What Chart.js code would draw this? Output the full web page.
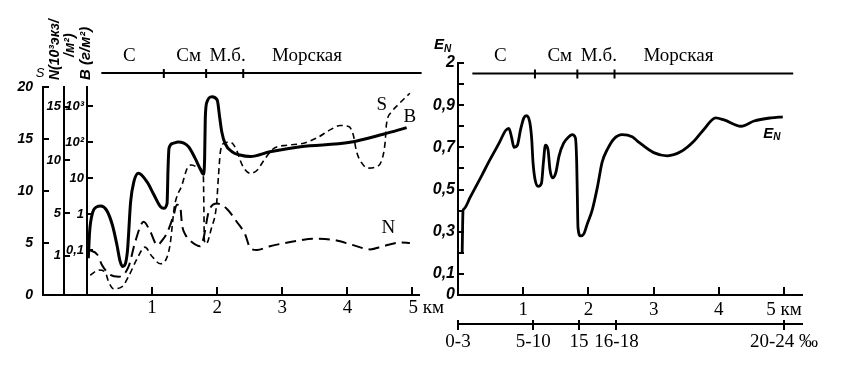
<!DOCTYPE html>
<html>
<head>
<meta charset="utf-8">
<script src="https://cdn.jsdelivr.net/npm/chart.js@4.4.0/dist/chart.umd.min.js"></script>
<style>
  body { margin: 0; background: #fff; }
  #left { position: absolute; left: 0; top: 0; }
  #right { position: absolute; left: 420px; top: 0; }
</style>
</head>
<body>
<canvas id="left" width="450" height="385"></canvas>
<canvas id="right" width="423" height="385"></canvas>
<script>
// zones along the transect (km)
const zoneNames = ['С', 'См', 'М.б.', 'Морская'];
const zoneLabelKm = [0.65, 1.56, 2.16, 3.38];
const zoneEdges = [1.18, 1.83, 2.4];
const zoneBar = [0.22, 5.14];

// x ticks
const kmTicks = [1, 2, 3, 4, 5];
const kmLabelsLeft = ['1', '2', '3', '4', '\u2002\u2002\u2009 5 км'];
const kmLabelsRight = ['1', '2', '3', '4', '5 км'];
const salTicks = [0, 1.154, 1.854, 2.43, 5.0];
const salLabels = ['0-3', '5-10', '15', '16-18', '20-24 ‰'];

// y ticks
const sTicks = [0, 5, 10, 15, 20];
const sLabels = ['0', '5', '10', '15', '20'];
const nTicks = [1, 5, 10, 15];
const nLabels = ['1', '5', '10', '15'];
const bTicks = [0.1, 1, 10, 100, 1000];
const bLabels = ['0,1', '1', '10', '10²', '10³'];
const eTicks = [0, 0.1, 0.2, 0.3, 0.4, 0.5, 0.6, 0.7, 0.8, 0.9, 1.0, 1.1];
const eLabels = ['0', '0,1', '', '0,3', '', '0,5', '', '0,7', '', '0,9', '', '2'];

// B, biomass (g/m2, log scale)
const bKm = [0.02, 0.04, 0.08, 0.15, 0.21, 0.30, 0.39, 0.46, 0.51, 0.55, 0.62, 0.67, 0.72, 0.79, 0.92,
  1.03, 1.13, 1.18, 1.23, 1.245, 1.26, 1.32, 1.40, 1.56, 1.66, 1.74, 1.79, 1.807, 1.817, 1.844,
  1.92, 2.00, 2.04, 2.07, 2.12, 2.23, 2.35, 2.51, 2.81, 3.28, 4.04, 4.55, 4.91];
const bVal = [0.06, 0.32, 1.0, 1.6, 1.7, 1.3, 0.5, 0.14, 0.048, 0.035, 0.09, 2.2, 8, 13.7, 8,
  3.4, 1.6, 1.46, 2.0, 19, 68, 93, 101, 75, 36, 18, 12.8, 36, 460, 1330,
  1840, 1490, 460, 196, 93, 54, 44, 40, 54, 75, 99, 166, 253];

// S, salinity
const sKm = [0.05, 0.18, 0.28, 0.33, 0.41, 0.54, 0.64, 0.77, 0.89, 1.00, 1.13, 1.22, 1.28, 1.31, 1.34,
  1.46, 1.54, 1.61, 1.72, 1.787, 1.796, 1.802, 1.83, 1.91, 1.99, 2.02, 2.05, 2.11, 2.20, 2.30,
  2.35, 2.41, 2.51, 2.63, 2.69, 2.87, 3.07, 3.33, 3.53, 3.74, 3.89, 4.02, 4.09, 4.14, 4.22,
  4.32, 4.43, 4.53, 4.58, 4.60, 4.68, 4.78, 4.91, 4.96];
const sVal = [1.9, 2.4, 2.2, 1.3, 0.6, 0.8, 1.8, 3.5, 4.6, 3.7, 3.0, 3.5, 5.0, 6.7, 8.4,
  10.6, 12.2, 12.5, 12.2, 11.5, 8.2, 5.3, 4.9, 6.4, 8.7, 11.5, 13.8, 14.6, 14.7, 13.9,
  13.0, 12.2, 11.7, 12.1, 12.7, 14.1, 14.4, 14.6, 15.1, 15.9, 16.3, 16.2, 15.4, 13.8, 12.7,
  12.2, 12.3, 13.0, 14.7, 16.4, 17.6, 18.3, 19.1, 19.4];

// N, abundance (10^3 ind/m2)
const nKm = [0.03, 0.16, 0.23, 0.36, 0.49, 0.64, 0.74, 0.87, 0.97, 1.08, 1.16, 1.23, 1.33, 1.38, 1.43,
  1.46, 1.51, 1.61, 1.74, 1.79, 1.87, 2.00, 2.15, 2.30, 2.43, 2.51, 2.61, 2.81, 3.23, 3.47,
  3.78, 4.09, 4.35, 4.55, 4.81, 4.96];
const nVal = [1.55, 1.1, 0.14, -0.8, -0.96, 0.0, 2.3, 4.2, 3.3, 2.0, 2.5, 3.15, 4.8, 5.8, 5.7,
  3.9, 3.0, 2.3, 1.9, 2.65, 5.15, 5.9, 5.4, 4.2, 3.0, 1.7, 1.55, 1.9, 2.4, 2.6,
  2.5, 2.0, 1.6, 1.9, 2.25, 2.2];

// E_N
const eKm = [0.064, 0.077, 0.09, 0.19, 0.37, 0.47, 0.63, 0.73, 0.78, 0.82, 0.86, 0.91, 0.96, 1.01, 1.05, 1.10,
  1.13, 1.15, 1.18, 1.23, 1.28, 1.31, 1.34, 1.38, 1.41, 1.45, 1.50, 1.55, 1.62, 1.70, 1.75,
  1.80, 1.82, 1.83, 1.84, 1.88, 1.93, 1.98, 2.06, 2.14, 2.21, 2.29, 2.39, 2.52, 2.67, 2.75,
  3.00, 3.21, 3.42, 3.62, 3.77, 3.95, 4.08, 4.34, 4.54, 4.80, 4.98];
const eVal = [0.20, 0.40, 0.408, 0.465, 0.57, 0.63, 0.72, 0.78, 0.79, 0.75, 0.70, 0.71, 0.785, 0.84, 0.85, 0.82,
  0.74, 0.63, 0.55, 0.515, 0.53, 0.63, 0.71, 0.69, 0.595, 0.555, 0.58, 0.66, 0.72, 0.75, 0.76,
  0.745, 0.63, 0.47, 0.32, 0.28, 0.29, 0.335, 0.405, 0.515, 0.63, 0.69, 0.74, 0.76, 0.75, 0.73,
  0.675, 0.66, 0.68, 0.73, 0.785, 0.84, 0.83, 0.80, 0.825, 0.84, 0.845];

Chart.defaults.color = '#000';
Chart.defaults.font.family = '"Liberation Serif", serif';
Chart.defaults.animation = false;

const pts = (xs, ys) => xs.map((x, i) => ({ x: x, y: ys[i] }));
const fixTicks = vals => s => { s.ticks = vals.map(v => ({ value: v })); };
const serif = { family: '"Liberation Serif", serif', size: 19 };
const italicSans = size => ({ family: '"Liberation Sans", sans-serif', size: size, style: 'italic', weight: 'bold' });

// fixed box sizes so the axes land where the original has them
const fitX = h => s => { s.height = h; s.paddingLeft = 0; s.paddingRight = 0; };
const fitY = w => s => { s.width = w; s.paddingTop = 0; s.paddingBottom = 0; };

function yAxis(opts) {
  return Object.assign({
    position: 'left',
    bounds: 'data',
    border: { color: '#000', width: 2 },
    grid: { drawOnChartArea: false, tickLength: -6, color: '#000', lineWidth: 2 },
  }, opts);
}

function drawZones(ctx, xs, y) {
  ctx.lineWidth = 2;
  ctx.beginPath();
  ctx.moveTo(xs.getPixelForValue(zoneBar[0]), y);
  ctx.lineTo(xs.getPixelForValue(zoneBar[1]), y);
  zoneEdges.forEach(v => {
    const px = xs.getPixelForValue(v);
    ctx.moveTo(px, y - 4);
    ctx.lineTo(px, y + 5);
  });
  ctx.stroke();
  ctx.font = '19px "Liberation Serif"';
  ctx.textAlign = 'center';
  ctx.textBaseline = 'middle';
  zoneNames.forEach((t, i) => ctx.fillText(t, xs.getPixelForValue(zoneLabelKm[i]), y - 17));
}

function vText(ctx, text, x, yBottom) {
  ctx.save();
  ctx.translate(x, yBottom);
  ctx.rotate(-Math.PI / 2);
  ctx.textAlign = 'left';
  ctx.textBaseline = 'middle';
  ctx.fillText(text, 0, 0);
  ctx.restore();
}

const leftDecor = {
  id: 'leftDecor',
  afterDraw(chart) {
    const { ctx, chartArea, scales } = chart;
    const x = scales.x, yS = scales.yS, yN = scales.yN, yB = scales.yB;
    ctx.save();
    ctx.strokeStyle = '#000';
    ctx.fillStyle = '#000';
    ctx.lineWidth = 2;
    ctx.beginPath();
    ctx.moveTo(yS.right - 1, x.top);
    ctx.lineTo(chartArea.left, x.top);
    ctx.stroke();
    drawZones(ctx, x, chartArea.top - 14);

    ctx.font = 'italic 13px "Liberation Sans"';
    ctx.textAlign = 'center';
    ctx.textBaseline = 'middle';
    ctx.fillText('S', yS.right - 3, chartArea.top - 14);
    ctx.font = 'italic bold 14px "Liberation Sans"';
    vText(ctx, 'N(10³экз/', yN.left + 12, chartArea.top - 7);
    vText(ctx, '/м²)', yN.right + 6, chartArea.top - 30);
    ctx.font = 'italic bold 15px "Liberation Sans"';
    vText(ctx, 'B (г/м²)', yB.right - 1, chartArea.top - 7);

    ctx.font = '19px "Liberation Serif"';
    ctx.fillText('S', x.getPixelForValue(4.53), yS.getPixelForValue(18.3));
    ctx.fillText('B', x.getPixelForValue(4.96), yS.getPixelForValue(17.1));
    ctx.fillText('N', x.getPixelForValue(4.63), yS.getPixelForValue(6.44));
    ctx.restore();
  }
};

const rightDecor = {
  id: 'rightDecor',
  afterDraw(chart) {
    const { ctx, chartArea, scales } = chart;
    const x = scales.x, xSal = scales.xSal, yE = scales.yE;
    ctx.save();
    ctx.strokeStyle = '#000';
    ctx.fillStyle = '#000';
    drawZones(ctx, x, chartArea.top + 10.5);
    // salinity ticks cross the line: add the upper halves
    ctx.lineWidth = 2;
    ctx.beginPath();
    salTicks.forEach(v => {
      const px = Math.round(xSal.getPixelForValue(v));
      ctx.moveTo(px, xSal.top - 4);
      ctx.lineTo(px, xSal.top);
    });
    ctx.stroke();
    const subLabel = (px, py) => {
      ctx.textAlign = 'left';
      ctx.textBaseline = 'middle';
      ctx.font = 'italic bold 15px "Liberation Sans"';
      ctx.fillText('E', px, py);
      ctx.font = 'italic bold 10px "Liberation Sans"';
      ctx.fillText('N', px + 10, py + 4);
    };
    subLabel(yE.right - 24, chartArea.top - 18);
    subLabel(x.getPixelForValue(4.68), yE.getPixelForValue(0.765));
    ctx.restore();
  }
};

const lineBase = { pointRadius: 0, borderColor: '#000', fill: false, cubicInterpolationMode: 'monotone' };

new Chart(document.getElementById('left'), {
  type: 'line',
  data: {
    datasets: [
      Object.assign({ label: 'B', data: pts(bKm, bVal), yAxisID: 'yB', borderWidth: 3 }, lineBase),
      Object.assign({ label: 'S', data: pts(sKm, sVal), yAxisID: 'yS', borderWidth: 1.6, borderDash: [6, 4] }, lineBase),
      Object.assign({ label: 'N', data: pts(nKm, nVal), yAxisID: 'yN', borderWidth: 2, borderDash: [11, 6] }, lineBase)
    ]
  },
  options: {
    responsive: false,
    layout: { padding: { left: 0, top: 87, right: 31, bottom: 60 } },
    plugins: { legend: { display: false }, tooltip: { enabled: false } },
    scales: {
      x: {
        type: 'linear', position: 'bottom', min: 0, max: 5.1, bounds: 'data',
        border: { color: '#000', width: 2 },
        grid: { drawOnChartArea: false, tickLength: -8, color: '#000', lineWidth: 2 },
        afterBuildTicks: fixTicks(kmTicks),
        afterFit: fitX(30),
        ticks: { font: serif, padding: 10, maxRotation: 0, autoSkip: false, callback: (v, i) => kmLabelsLeft[i] }
      },
      yS: yAxis({
        weight: 3, min: 0, max: 20,
        afterBuildTicks: fixTicks(sTicks),
        afterFit: fitY(43),
        ticks: { font: italicSans(14), padding: 16, autoSkip: false, callback: (v, i) => sLabels[i] }
      }),
      yN: yAxis({
        weight: 2, min: -2.68, max: 16.85,
        afterBuildTicks: fixTicks(nTicks),
        afterFit: fitY(21),
        ticks: { font: italicSans(13), padding: 9, autoSkip: false, callback: (v, i) => nLabels[i] }
      }),
      yB: yAxis({
        type: 'logarithmic', weight: 1, min: 0.0057, max: 3412,
        afterBuildTicks: fixTicks(bTicks),
        afterFit: fitY(23),
        ticks: { font: italicSans(13), padding: 9, autoSkip: false, callback: (v, i) => bLabels[i] }
      })
    }
  },
  plugins: [leftDecor]
});

new Chart(document.getElementById('right'), {
  type: 'line',
  data: {
    datasets: [
      Object.assign({ label: 'E_N', data: pts(eKm, eVal), yAxisID: 'yE', borderWidth: 2.8 }, lineBase)
    ]
  },
  options: {
    responsive: false,
    layout: { padding: { left: 0, top: 63, right: 41, bottom: 21 } },
    plugins: { legend: { display: false }, tooltip: { enabled: false } },
    scales: {
      x: {
        type: 'linear', position: 'bottom', weight: 0, min: 0, max: 5.275, bounds: 'data',
        border: { color: '#000', width: 2 },
        grid: { drawOnChartArea: false, tickLength: -8, color: '#000', lineWidth: 2 },
        afterBuildTicks: fixTicks(kmTicks),
        afterFit: fitX(29),
        ticks: { font: serif, padding: 12, maxRotation: 0, autoSkip: false, callback: (v, i) => kmLabelsRight[i] }
      },
      xSal: {
        type: 'linear', position: 'bottom', weight: 1, min: 0, max: 5.275, bounds: 'data',
        border: { color: '#000', width: 2 },
        grid: { drawOnChartArea: false, tickLength: 6, color: '#000', lineWidth: 2 },
        afterBuildTicks: fixTicks(salTicks),
        afterFit: fitX(40),
        ticks: { font: serif, padding: 1, maxRotation: 0, autoSkip: false, callback: (v, i) => salLabels[i] }
      },
      yE: yAxis({
        min: 0, max: 1.1,
        afterBuildTicks: fixTicks(eTicks),
        afterFit: fitY(38),
        ticks: { font: italicSans(16), padding: 9, autoSkip: false, callback: (v, i) => eLabels[i] }
      })
    }
  },
  plugins: [rightDecor]
});
</script>
</body>
</html>
